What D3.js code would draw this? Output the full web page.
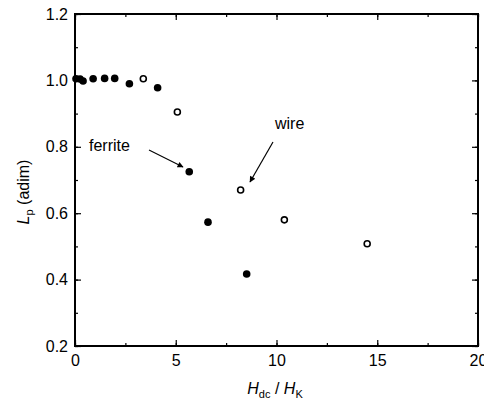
<!DOCTYPE html>
<html>
<head>
<meta charset="utf-8">
<script src="https://cdn.jsdelivr.net/npm/d3@7"></script>
<style>
  body { margin: 0; background: #fff; }
  svg { font-family: "Liberation Sans", Arial, sans-serif; }
</style>
</head>
<body>
<svg id="chart" width="484" height="403"></svg>
<script>
// ferrite (filled) and wire (open) points
var ferriteX = [0.05, 0.25, 0.4, 0.9, 1.47, 1.97, 2.7, 4.1, 5.67, 6.6, 8.52];
var ferriteY = [1.005, 1.004, 0.998, 1.005, 1.006, 1.006, 0.99, 0.978, 0.725, 0.573, 0.417];
var wireX = [3.39, 5.08, 8.22, 10.39, 14.5];
var wireY = [1.005, 0.905, 0.67, 0.58, 0.508];
var xTicks = [0, 5, 10, 15, 20];
var yTicks = [0.2, 0.4, 0.6, 0.8, 1.0, 1.2];

var svg = d3.select("#chart");
var margin = {left: 75, top: 14, right: 6, bottom: 57};
var width = 484 - margin.left - margin.right;
var height = 403 - margin.top - margin.bottom;

var x = d3.scaleLinear().domain([0, 20]).range([0, width]);
var y = d3.scaleLinear().domain([0.2, 1.2]).range([height, 0]);

var g = svg.append("g")
  .attr("transform", "translate(" + margin.left + "," + margin.top + ")");

var xMinor = d3.range(0, 20.01, 2.5);
var yMinor = d3.range(0.2, 1.201, 0.1);

function styleAxis(sel) {
  sel.select(".domain").remove();
  sel.selectAll("line").attr("stroke", "#000").attr("stroke-width", 1.2);
  sel.selectAll("text").attr("fill", "#000").attr("font-size", 16);
}

// bottom
g.append("g").attr("transform", "translate(0," + height + ")")
  .call(d3.axisBottom(x).tickValues(xMinor).tickSize(-3).tickFormat(""))
  .call(styleAxis);
g.append("g").attr("transform", "translate(0," + height + ")")
  .call(d3.axisBottom(x).tickValues(xTicks).tickSize(-6).tickPadding(9).tickFormat(d3.format("d")))
  .call(styleAxis);
// top
g.append("g")
  .call(d3.axisTop(x).tickValues(xMinor).tickSize(-3).tickFormat(""))
  .call(styleAxis);
g.append("g")
  .call(d3.axisTop(x).tickValues(xTicks).tickSize(-6).tickFormat(""))
  .call(styleAxis);
// left
g.append("g")
  .call(d3.axisLeft(y).tickValues(yMinor).tickSize(-3).tickFormat(""))
  .call(styleAxis);
g.append("g")
  .call(d3.axisLeft(y).tickValues(yTicks).tickSize(-6).tickPadding(7).tickFormat(d3.format(".1f")))
  .call(styleAxis);
// right
g.append("g").attr("transform", "translate(" + width + ",0)")
  .call(d3.axisRight(y).tickValues(yMinor).tickSize(-3).tickFormat(""))
  .call(styleAxis);
g.append("g").attr("transform", "translate(" + width + ",0)")
  .call(d3.axisRight(y).tickValues(yTicks).tickSize(-6).tickFormat(""))
  .call(styleAxis);

// frame
g.append("rect")
  .attr("width", width).attr("height", height)
  .attr("fill", "none").attr("stroke", "#000").attr("stroke-width", 2);

// points
g.selectAll(".ferrite")
  .data(ferriteX)
  .enter().append("circle")
  .attr("cx", function(d) { return x(d); })
  .attr("cy", function(d, i) { return y(ferriteY[i]); })
  .attr("r", 3.8)
  .attr("fill", "#000");

g.selectAll(".wire")
  .data(wireX)
  .enter().append("circle")
  .attr("cx", function(d) { return x(d); })
  .attr("cy", function(d, i) { return y(wireY[i]); })
  .attr("r", 3)
  .attr("fill", "#fff")
  .attr("stroke", "#000")
  .attr("stroke-width", 1.6);

// annotations
svg.append("defs").append("marker")
  .attr("id", "arrow")
  .attr("viewBox", "0 0 10 10")
  .attr("refX", 9).attr("refY", 5)
  .attr("markerWidth", 9).attr("markerHeight", 6)
  .attr("markerUnits", "userSpaceOnUse")
  .attr("orient", "auto")
  .append("path").attr("d", "M0,0 L10,5 L0,10 z").attr("fill", "#000");

svg.append("text").attr("x", 89).attr("y", 151)
  .attr("font-size", 16).text("ferrite");
svg.append("line")
  .attr("x1", 149).attr("y1", 150).attr("x2", 183).attr("y2", 167)
  .attr("stroke", "#000").attr("stroke-width", 1.2)
  .attr("marker-end", "url(#arrow)");

svg.append("text").attr("x", 275).attr("y", 129)
  .attr("font-size", 16).text("wire");
svg.append("line")
  .attr("x1", 273).attr("y1", 142).attr("x2", 250).attr("y2", 182)
  .attr("stroke", "#000").attr("stroke-width", 1.2)
  .attr("marker-end", "url(#arrow)");

// axis labels
var yl = svg.append("text")
  .attr("transform", "translate(29,192) rotate(-90)")
  .attr("text-anchor", "middle").attr("font-size", 16);
yl.append("tspan").attr("font-style", "italic").text("L");
yl.append("tspan").attr("font-size", 11).attr("dy", 4).text("p");
yl.append("tspan").attr("dy", -4).text(" (adim)");

var xl = svg.append("text")
  .attr("x", 275).attr("y", 394)
  .attr("text-anchor", "middle").attr("font-size", 16);
xl.append("tspan").attr("font-style", "italic").text("H");
xl.append("tspan").attr("font-size", 11).attr("dy", 4).text("dc");
xl.append("tspan").attr("dy", -4).text(" / ");
xl.append("tspan").attr("font-style", "italic").text("H");
xl.append("tspan").attr("font-size", 11).attr("dy", 4).text("K");
</script>
</body>
</html>
